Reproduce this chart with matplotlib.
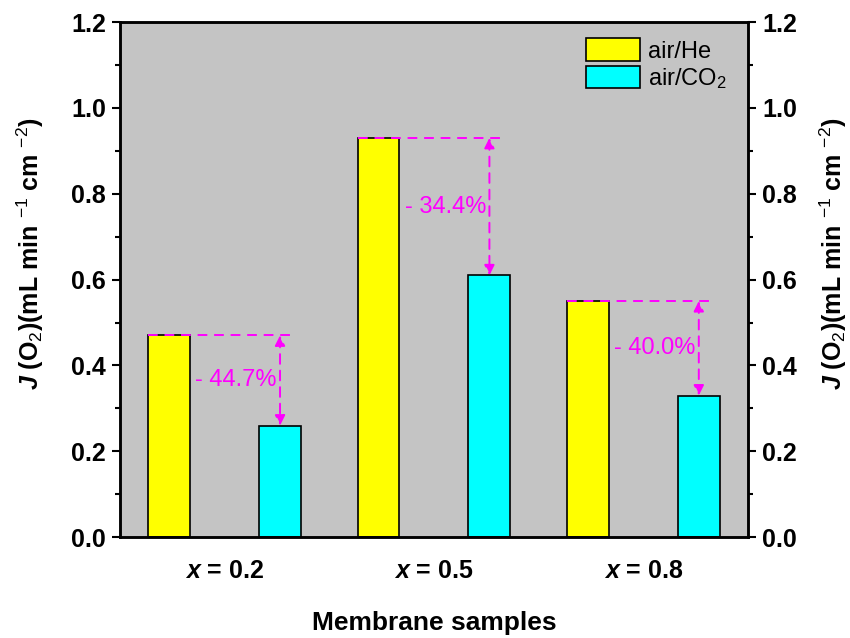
import matplotlib.pyplot as plt
import numpy as np
from matplotlib.ticker import MultipleLocator

plt.rcParams['font.family'] = ['Liberation Sans', 'DejaVu Sans']
plt.rcParams['mathtext.fontset'] = 'custom'
plt.rcParams['mathtext.rm'] = 'Liberation Sans:bold'
plt.rcParams['mathtext.it'] = 'Liberation Sans:italic:bold'
plt.rcParams['mathtext.bf'] = 'Liberation Sans:bold'
plt.rcParams['mathtext.sf'] = 'Liberation Sans'

samples = ['0.2', '0.5', '0.8']
flux_he = [0.47, 0.93, 0.55]
flux_co2 = [0.26, 0.61, 0.33]
drop_labels = ['- 44.7%', '- 34.4%', '- 40.0%']

pos = np.arange(1, len(samples) + 1)
width = 0.2
off = 0.265

fig = plt.figure(figsize=(8.5, 6.38), dpi=100)
ax = fig.add_axes([0.141, 0.158, 0.739, 0.8075])
ax.set_facecolor('#c4c4c4')

ax.bar(pos - off, flux_he, width, color='#ffff00', edgecolor='black', linewidth=1.2, label='air/He', zorder=2)
ax.bar(pos + off, flux_co2, width, color='#00ffff', edgecolor='black', linewidth=1.2,
       label=r'air/CO$_\mathsf{2}$', zorder=2)

# dashed reference line + double arrow showing the flux drop
for p, hi, lo, txt in zip(pos, flux_he, flux_co2, drop_labels):
    ax.plot([p - off - width / 2, p + off + 0.06], [hi, hi], color='magenta', ls=(0, (5, 3.5)), lw=1.4, zorder=3)
    ax.annotate('', xy=(p + off, lo), xytext=(p + off, hi),
                arrowprops=dict(arrowstyle='<|-|>', color='magenta', lw=1.4, ls=(0, (5, 3.5)),
                                shrinkA=0, shrinkB=0, mutation_scale=15), zorder=3)
    ax.text(p + off - 0.015, (hi + lo) / 2, txt, color='magenta', fontsize=17,
            ha='right', va='center', zorder=4)

ax.set_xlim(0.5, 3.5)
ax.set_ylim(0, 1.2)
ax.set_xticks(pos)
ax.set_xticklabels([f'$x$ = {s}' for s in samples], fontsize=18, fontweight='bold')
ax.tick_params(axis='x', length=0, pad=16)
ax.yaxis.set_major_locator(MultipleLocator(0.2))
ax.yaxis.set_minor_locator(MultipleLocator(0.1))
ax.yaxis.set_major_formatter(plt.FormatStrFormatter('%.1f'))

ylab = r'$\mathit{J}$ (O$_\mathsf{2}$)(mL min $^{\mathsf{-1}}$ cm $^{\mathsf{-2}}$)'
ax.set_ylabel(ylab, fontsize=18, fontweight='bold')
ax.yaxis.set_label_coords(-0.118, 0.55)
ax.set_xlabel('Membrane samples', fontsize=19, fontweight='bold', labelpad=20)

ax2 = ax.twinx()
ax2.set_ylim(ax.get_ylim())
ax2.yaxis.set_major_locator(MultipleLocator(0.2))
ax2.yaxis.set_minor_locator(MultipleLocator(0.1))
ax2.yaxis.set_major_formatter(plt.FormatStrFormatter('%.1f'))
ax2.set_ylabel(ylab, fontsize=18, fontweight='bold', rotation=90)
ax2.yaxis.set_label_coords(1.111, 0.55)

for a in (ax, ax2):
    a.tick_params(axis='y', which='major', direction='out', length=6, width=1.5, labelsize=18, pad=4)
    a.tick_params(axis='y', which='minor', direction='out', length=3.5, width=1.5)
    for lab in a.get_yticklabels():
        lab.set_fontweight('bold')
    for s in a.spines.values():
        s.set_linewidth(1.8)

ax.legend(loc='upper right', bbox_to_anchor=(0.967, 0.968), frameon=False, fontsize=17,
          handlelength=2.3, handleheight=1.1, handletextpad=0.35, labelspacing=0.12,
          borderaxespad=0.0, borderpad=0.0)

fig.savefig('out.png', dpi=100)
